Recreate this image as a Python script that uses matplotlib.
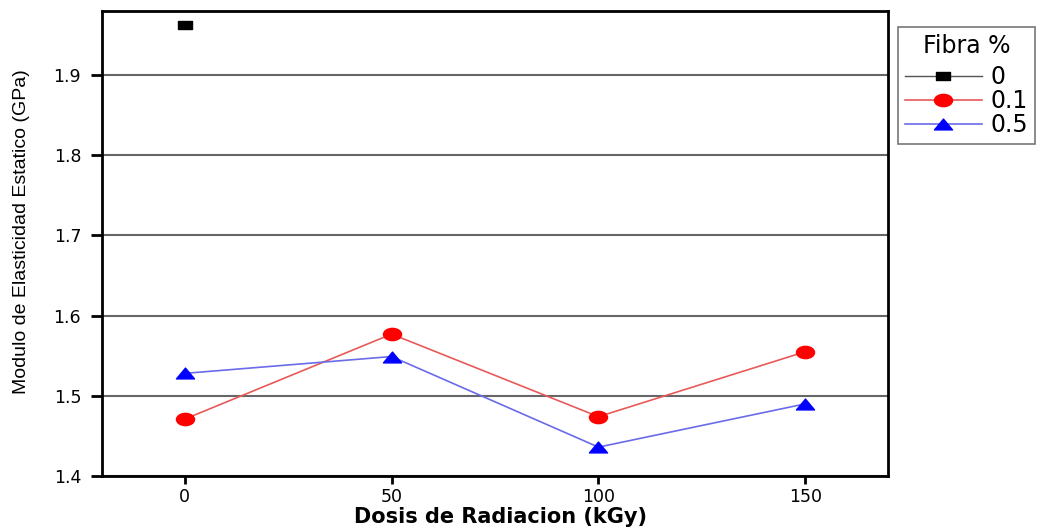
import matplotlib.pyplot as plt
from matplotlib.path import Path

# Dosis de radiacion (kGy) y modulo de elasticidad (GPa)
dosis = [0, 50, 100, 150]
fibra_0_x = [0]
fibra_0 = [1.962]
fibra_01 = [1.471, 1.577, 1.474, 1.555]
fibra_05 = [1.528, 1.549, 1.436, 1.490]

plt.rcParams['font.family'] = ['DejaVu Sans']

# marcadores algo achatados, como en la figura original
circ = Path.unit_circle()
elipse = Path(circ.vertices * [1.0, 0.68], circ.codes)
rect = Path([(-1, -0.6), (1, -0.6), (1, 0.6), (-1, 0.6), (-1, -0.6)], closed=True)
tri = Path([(-1, -0.6), (1, -0.6), (0, 0.6), (-1, -0.6)], closed=True)

fig = plt.figure(figsize=(10.39, 5.29), dpi=100)
ax = fig.add_axes([0.0982, 0.1002, 0.7565, 0.8790])

ax.plot(fibra_0_x, fibra_0, color='#555555', lw=1, marker=rect, ms=10,
        mfc='black', mec='black', label='0')
ax.plot(dosis, fibra_01, color='#e85a5a', lw=1.2, marker=elipse, ms=13,
        mfc='red', mec='red', label='0.1')
ax.plot(dosis, fibra_05, color='#6b6bea', lw=1.2, marker=tri, ms=13,
        mfc='blue', mec='blue', label='0.5')

ax.set_xlim(-20, 170)
ax.set_ylim(1.4, 1.98)
ax.set_xticks(dosis)
ax.set_yticks([1.4, 1.5, 1.6, 1.7, 1.8, 1.9])
ax.set_yticklabels(['1.4', '1.5', '1.6', '1.7', '1.8', '1.9'])
ax.yaxis.grid(True, color='#666666', lw=1.5)
ax.set_axisbelow(True)
for s in ax.spines.values():
    s.set_linewidth(2)
ax.tick_params(axis='y', direction='out', length=8, width=2, labelsize=12.5, pad=7)
ax.tick_params(axis='x', direction='out', length=6, width=2, labelsize=12.5, pad=3)

ax.set_xlabel('Dosis de Radiacion (kGy)', fontsize=15, fontweight='bold')
ax.xaxis.set_label_coords(0.507, -0.066)
ax.set_ylabel('Modulo de Elasticidad Estatico (GPa)', fontsize=14,
              family='Liberation Sans')
ax.yaxis.set_label_coords(-0.092, 0.525)

leg = ax.legend(title='Fibra %', loc='upper left', bbox_to_anchor=(898 / 1039, 1 - 27 / 529),
                bbox_transform=fig.transFigure, fontsize=17, title_fontsize=17,
                frameon=True, fancybox=False, edgecolor='#555555',
                handlelength=3.25, handletextpad=0.35, borderaxespad=0,
                labelspacing=0.0, borderpad=0.3, markerscale=1.0)
leg._legend_box.sep = 5
leg.get_frame().set_linewidth(1.2)

fig.savefig('out.png', dpi=100)
